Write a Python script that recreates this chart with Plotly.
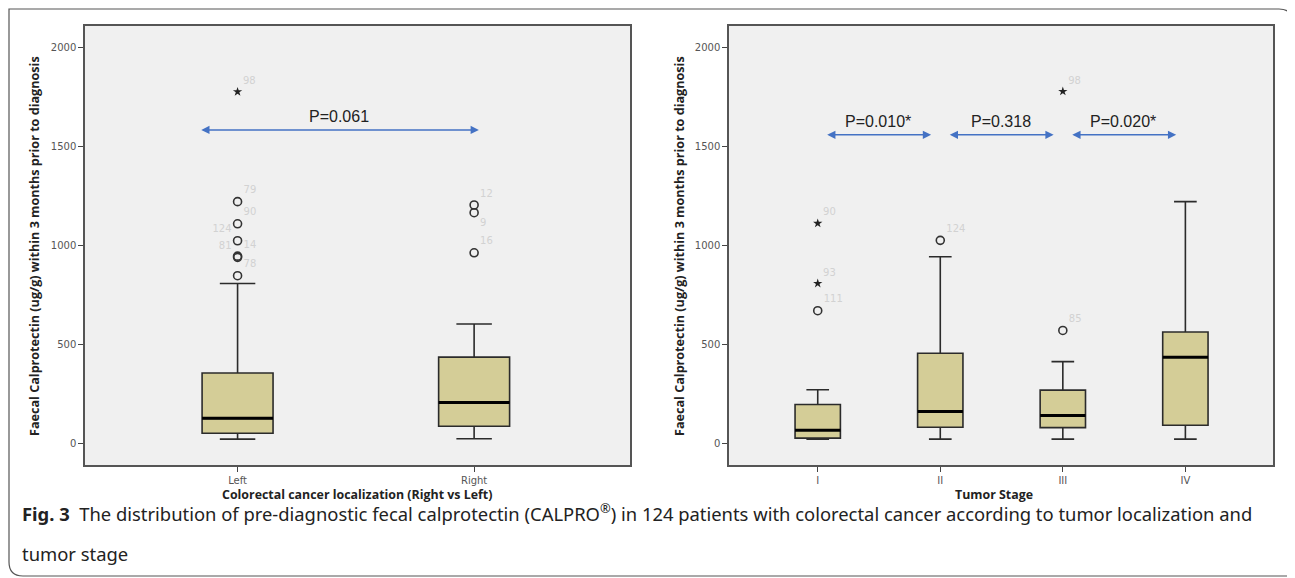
import plotly.graph_objects as go

# page body has an 8px margin; the figure is sized to fill the rest of the window
OFF = 8
W, H = 1295 - OFF, 578 - OFF

# ---------------- data ----------------
loc_categories = ["Left", "Right"]
loc_q1 = [50, 85]
loc_median = [125, 205]
loc_q3 = [355, 435]
loc_low = [20, 22]
loc_high = [808, 603]
loc_out_circle_y = [[847, 940, 946, 1024, 1110, 1222], [963, 1166, 1205]]
loc_out_circle_lbl = [["78", "81", "14", "124", "90", "79"], ["16", "9", "12"]]
loc_out_circle_pos = [["top right", "top left", "top right", "top left", "top right", "top right"],
                      ["top right", "bottom right", "top right"]]
loc_out_star_y = [[1778], []]
loc_out_star_lbl = [["98"], []]

stage_categories = ["I", "II", "III", "IV"]
stage_q1 = [25, 80, 78, 90]
stage_median = [65, 160, 140, 435]
stage_q3 = [195, 455, 268, 562]
stage_low = [20, 20, 20, 20]
stage_high = [270, 943, 412, 1222]
stage_out_circle_y = [[670], [1026], [570], []]
stage_out_circle_lbl = [["111"], ["124"], ["85"], []]
stage_out_circle_pos = [["top right"], ["top right"], ["top right"], []]
stage_out_star_y = [[808, 1112], [], [1780], []]
stage_out_star_lbl = [["93", "90"], [], ["98"], []]

loc_pvalues = [(0, 1, "P=0.061", 1585)]
stage_pvalues = [(0, 1, "P=0.010*", 1560), (1, 2, "P=0.318", 1560), (2, 3, "P=0.020*", 1560)]

ytick_vals = [0, 500, 1000, 1500, 2000]
y_title = "Faecal Calprotectin (ug/g) within 3 months prior to diagnosis"
loc_x_title = "Colorectal cancer localization (Right vs Left)"
stage_x_title = "Tumor Stage"
caption_line1 = ("<b>Fig. 3</b>  The distribution of pre-diagnostic fecal calprotectin "
                 "(CALPRO<sup>®</sup>) in 124 patients with colorectal cancer according "
                 "to tumor localization and")
caption_line2 = "tumor stage"

# ---------------- style ----------------
BOX_FILL = "#d4cd97"
LINE = "#2b2b2b"
BG = "#f0f0f0"
ARROW = "#4472c4"
LBL = "#d2d2d2"

fig = go.Figure()


def px2x(px):
    return (px - OFF) / W


def px2y(py):
    return 1 - (py - OFF) / H


def add_panel(cats, q1, med, q3, low, high, oc_y, oc_l, oc_p, os_y, os_l, xa, ya, bw):
    xs = list(range(len(cats)))
    fig.add_trace(go.Box(
        x=xs, q1=q1, median=med, q3=q3, lowerfence=low, upperfence=high,
        fillcolor=BOX_FILL, line=dict(color=LINE, width=1.6), width=bw,
        whiskerwidth=0.5, boxpoints=False, xaxis=xa, yaxis=ya,
        showlegend=False, hoverinfo="skip"))
    # thick median lines
    mx, my = [], []
    for i, m in enumerate(med):
        mx += [i - bw / 2, i + bw / 2, None]
        my += [m, m, None]
    fig.add_trace(go.Scatter(x=mx, y=my, mode="lines", line=dict(color="#000", width=3),
                             xaxis=xa, yaxis=ya, showlegend=False, hoverinfo="skip"))
    cx, cy, ct, cp = [], [], [], []
    sx, sy, st = [], [], []
    for i in xs:
        for v, l, p in zip(oc_y[i], oc_l[i], oc_p[i]):
            cx.append(i); cy.append(v); ct.append(l); cp.append(p)
        for v, l in zip(os_y[i], os_l[i]):
            sx.append(i); sy.append(v); st.append(l)
    fig.add_trace(go.Scatter(x=cx, y=cy, mode="markers+text", text=ct,
                             textposition=cp,
                             textfont=dict(color=LBL, size=10, family="DejaVu Sans"),
                             marker=dict(symbol="circle-open", size=8, color="#333",
                                         line=dict(width=1.6, color="#333")),
                             xaxis=xa, yaxis=ya, showlegend=False, hoverinfo="skip"))
    fig.add_trace(go.Scatter(x=sx, y=sy, mode="markers+text", text=st,
                             textposition="top right",
                             textfont=dict(color=LBL, size=10, family="DejaVu Sans"),
                             marker=dict(symbol="star", size=7, color="#222"),
                             xaxis=xa, yaxis=ya, showlegend=False, hoverinfo="skip"))


add_panel(loc_categories, loc_q1, loc_median, loc_q3, loc_low, loc_high,
          loc_out_circle_y, loc_out_circle_lbl, loc_out_circle_pos,
          loc_out_star_y, loc_out_star_lbl, "x", "y", 0.3)
add_panel(stage_categories, stage_q1, stage_median, stage_q3, stage_low, stage_high,
          stage_out_circle_y, stage_out_circle_lbl, stage_out_circle_pos,
          stage_out_star_y, stage_out_star_lbl, "x2", "y2", 0.37)

yr = [-111, 2111]
axis_common = dict(showgrid=False, zeroline=False, showline=True, linecolor="#555",
                   linewidth=1.5, mirror=True, ticks="outside", ticklen=5,
                   tickcolor="#444", tickwidth=1.2,
                   tickfont=dict(family="DejaVu Sans", size=10, color="#555"))

fig.update_layout(
    width=W, height=H, margin=dict(l=0, r=0, t=0, b=0),
    paper_bgcolor="white", plot_bgcolor=BG,
    xaxis=dict(domain=[px2x(85), px2x(630)], range=[-0.645, 1.659],
               tickvals=list(range(len(loc_categories))), ticktext=loc_categories,
               anchor="y", **axis_common),
    yaxis=dict(domain=[px2y(465), px2y(26)], range=yr, tickvals=ytick_vals,
               anchor="x", **axis_common),
    xaxis2=dict(domain=[px2x(729), px2x(1273)], range=[-0.724, 3.715],
                tickvals=list(range(len(stage_categories))), ticktext=stage_categories,
                anchor="y2", **axis_common),
    yaxis2=dict(domain=[px2y(465), px2y(26)], range=yr, tickvals=ytick_vals,
                anchor="x2", **axis_common),
)

ann = []
# p-value arrows
for (a, b, txt, yv), xa, ya in [(p, "x", "y") for p in loc_pvalues] + \
                               [(p, "x2", "y2") for p in stage_pvalues]:
    if xa == "x":
        x0, x1 = a - 0.16, b + 0.02
    else:
        x0, x1 = a + 0.065, b - 0.075
    ann.append(dict(x=x1, y=yv, ax=x0, ay=yv, xref=xa, yref=ya, axref=xa, ayref=ya,
                    showarrow=True, arrowhead=2, startarrowhead=2, arrowside="end+start",
                    arrowsize=1.1, arrowwidth=1.5, arrowcolor=ARROW, text=""))
    ann.append(dict(x=(x0 + x1) / 2, y=yv, xref=xa, yref=ya, text=txt, showarrow=False,
                    xanchor="center", yanchor="bottom", yshift=3,
                    font=dict(family="Liberation Sans", size=16, color="#222")))

# axis titles
for cx in [35, 680]:
    ann.append(dict(x=px2x(cx), y=px2y(246), xref="paper", yref="paper",
                    text="<b>" + y_title + "</b>", textangle=-90, showarrow=False,
                    xanchor="center", yanchor="middle",
                    font=dict(family="Open Sans", size=12.6, color="#222")))
ann.append(dict(x=px2x(357), y=px2y(494), xref="paper", yref="paper",
                text="<b>" + loc_x_title + "</b>", showarrow=False,
                xanchor="center", yanchor="middle",
                font=dict(family="Open Sans", size=12.4, color="#222")))
ann.append(dict(x=px2x(994), y=px2y(494), xref="paper", yref="paper",
                text="<b>" + stage_x_title + "</b>", showarrow=False,
                xanchor="center", yanchor="middle",
                font=dict(family="Open Sans", size=12.4, color="#222")))

# caption
ann.append(dict(x=px2x(20), y=px2y(512), xref="paper", yref="paper", xanchor="left",
                yanchor="middle", text=caption_line1, showarrow=False,
                font=dict(family="Noto Sans", size=18.4, color="#222")))
ann.append(dict(x=px2x(20), y=px2y(553), xref="paper", yref="paper", xanchor="left",
                yanchor="middle", text=caption_line2, showarrow=False,
                font=dict(family="Noto Sans", size=18.4, color="#222")))
fig.update_layout(annotations=ann)

# outer frame with rounded top-right and bottom-left corners
r = 14
L, T, R, B = 9, 9, 1293, 576
path = (f"M {px2x(L)} {px2y(T)} L {px2x(R - r)} {px2y(T)} "
        f"Q {px2x(R)} {px2y(T)} {px2x(R)} {px2y(T + r)} "
        f"L {px2x(R)} {px2y(B)} L {px2x(L + r)} {px2y(B)} "
        f"Q {px2x(L)} {px2y(B)} {px2x(L)} {px2y(B - r)} Z")
fig.add_shape(type="path", path=path, xref="paper", yref="paper",
              line=dict(color="#555", width=1.2), layer="below")

fig.write_html("out.html")
